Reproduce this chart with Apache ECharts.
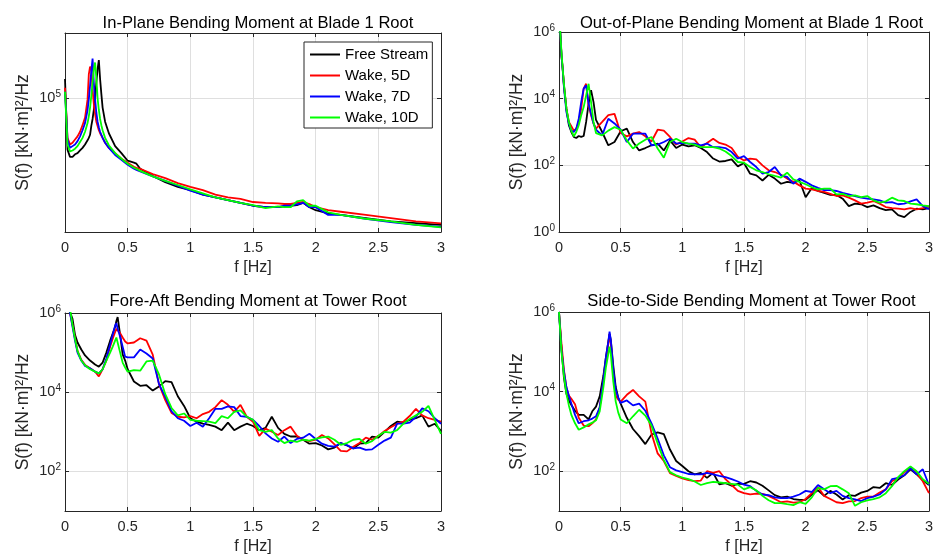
<!DOCTYPE html>
<html>
<head>
<meta charset="utf-8">
<script src="https://cdn.jsdelivr.net/npm/echarts@6/dist/echarts.min.js"></script>
<style>
html,body{margin:0;padding:0;background:#ffffff;}
#chart{width:936px;height:560px;}
</style>
</head>
<body>
<div id="chart"></div>
<script>
// ---------------- DATA ----------------
const seriesNames = ['Free Stream', 'Wake, 5D', 'Wake, 7D', 'Wake, 10D'];
const panelTitles = [
  'In-Plane Bending Moment at Blade 1 Root',
  'Out-of-Plane Bending Moment at Blade 1 Root',
  'Fore-Aft Bending Moment at Tower Root',
  'Side-to-Side Bending Moment at Tower Root'
];
const xAxisName = 'f [Hz]';
const yAxisName = 'S(f) [kN·m]²/Hz';
const xRange = [0, 3];
const xTickStep = 0.5;
const yRangeTL = [30000, 180000];
const yRangeTR = [1, 1e6];
const yRangeBL = [10, 1e6];
const yRangeBR = [10, 1e6];
const yTicksTL = [1e5];
const yTicksTR = [1, 1e2, 1e4, 1e6];
const yTicksBL = [1e2, 1e4, 1e6];
const yTicksBR = [1e2, 1e4, 1e6];

// In-plane bending moment, blade 1 root
const freqTL = [0,0.02,0.04,0.06,0.08,0.10,0.12,0.14,0.16,0.18,0.19,0.20,0.21,0.22,0.23,0.24,0.25,0.26,0.27,0.28,0.29,0.30,0.32,0.35,0.40,0.45,0.50,0.55,0.57,0.60,0.70,0.80,0.90,1.00,1.10,1.20,1.30,1.40,1.50,1.60,1.70,1.75,1.80,1.85,1.90,1.95,2.00,2.10,2.20,2.40,2.60,2.80,3.00];
const freeTL  = [119000,63000,59000,59000,60400,61000,62500,64000,66000,68500,70000,72000,78000,83000,90000,99000,115000,130000,141000,119000,104000,92000,81000,73000,65000,61000,57000,56000,55500,53000,49700,47000,45000,43700,42000,41000,40000,39000,38000,37500,37500,37800,38000,38200,39000,37500,36500,35500,35000,34000,33000,32500,32000];
const wake5TL = [110000,70000,66000,67000,69000,71000,74000,78500,84000,99000,124000,133000,130000,108000,95000,87000,81000,78000,75000,73000,71500,70000,67000,64000,61000,58000,56000,54000,53500,53000,50500,48700,46600,45000,43700,42000,41000,40400,39300,39000,38800,38600,38600,39000,39300,38600,37500,36500,36000,35000,34000,33000,32400];
const wake7TL = [106000,69000,64000,65000,66000,68000,71000,75000,80000,90000,99000,112000,128000,143000,115000,99000,88000,81000,77000,74000,72000,70000,67000,64000,60000,57500,55000,53000,52500,51800,49500,47500,45500,43500,42000,41000,40000,39000,38000,37500,37500,38000,38000,38500,39000,37500,37500,35000,35000,33800,32800,32000,31400];
const wake10TL = [106000,66000,62000,62500,63500,65000,67500,70000,74000,80000,85000,92000,102000,115000,130000,138000,120000,100000,90000,83000,78500,75000,70000,65500,61000,58000,55500,53500,53000,52000,49500,47500,45800,44000,42500,41000,40000,39000,38200,37200,37800,37500,37500,39500,40000,38000,38000,35800,35000,33800,33000,32000,31300];

// Out-of-plane bending moment, blade 1 root
const freqTR = [0,0.01,0.02,0.03,0.04,0.06,0.08,0.10,0.12,0.14,0.16,0.18,0.20,0.22,0.24,0.26,0.28,
  0.30,0.35,0.40,0.45,0.50,0.55,0.60,0.65,0.70,0.75,0.80,0.85,0.90,0.95,1.00,1.05,1.10,1.15,1.20,1.25,1.30,1.35,1.40,1.45,1.50,1.55,1.60,1.65,1.70,1.75,1.80,1.85,1.90,1.95,2.00,2.05,2.10,2.15,2.20,2.25,2.30,2.35,2.40,2.45,2.50,2.55,2.60,2.65,2.70,2.75,2.80,2.85,2.90,2.95,3.00];
const freeTR = [1.6e6,1.0e6,2.0e5,7.9e4,2.5e4,5.0e3,1.6e3,1.0e3,710,660,760,710,760,2.0e3,7.1e3,1.8e4,7.9e3,
  2.3e3,1.0e3,400,500,1.05e3, 1.26e3,500,280,330,400, 450,280,560,330,420, 370,400,330,250,160, 130,135,150,93,117, 56,50,35,52,40, 28,32,30,35,11, 21,17,15,13,13, 10,6.0,7.1,6.8,5.6, 6.3,5.2,4.5,4.8,3.2, 2.8,4.0,5.0,4.8,5.2];
const wake5TR = [1.6e6,1.0e6,2.0e5,7.9e4,2.5e4,5.0e3,2.0e3,1.5e3,1.1e3,1.26e3,2.0e3,5.0e3,2.0e4,2.8e4,6.3e3,3.2e3,1.8e3,
  1.26e3,2.0e3,3.2e3,3.5e3,930, 740,890,1.0e3,740,520, 1.17e3,1.1e3,710,420,520, 660,590,350,470,630, 470,420,330,180,140, 160,150,100,71,63, 52,40,32,25,20, 19,17,16,14,12, 12.6,10.7,8.9,7.1,7.6, 8.5,7.1,5.6,5.2,5.0, 4.8,5.2,4.8,5.2,6.0];
const wake7TR = [1.6e6,1.0e6,2.0e5,7.1e4,2.2e4,4.0e3,1.8e3,1.1e3,1.0e3,1.26e3,2.5e3,7.9e3,2.0e4,2.5e4,7.1e3,3.5e3,1.8e3,
  1.17e3,790,2.5e3,1.8e3,1.17e3, 500,890,890,890,400, 420,500,630,450,470, 450,450,400,450,350, 350,330,250,160,190, 126,89,56,63,89, 50,45,28,40,32, 25,21,18,18,17, 15,13.5,12,10.7,10, 9.5,8.9,7.6,7.9,6.8, 7.1,8.3,9.5,6.0,4.8];
const wake10TR = [1.6e6,1.0e6,2.5e5,7.9e4,2.8e4,5.0e3,2.0e3,1.1e3,740,1.0e3,1.6e3,3.2e3,5.6e3,1.26e4,2.8e4,7.9e3,2.0e3,
  930,790,1.1e3,1.4e3,1.17e3, 560,320,450,590,710, 320,170,500,630,500, 450,420,350,350,350, 320,260,190,126,120, 89,71,63,54,48, 43,60,38,32,27, 22,19,20,20,13.5, 14,12,12.6,11.2,12, 8.9,7.6,8.3,10.7,8.9, 8.5,7.1,6.8,6.3,6.0];

// Tower root (fore-aft and side-to-side) share one frequency list
const freqTower = [0,0.02,0.04,0.06,0.08,0.10,0.13,0.16,0.20,0.24,0.27,0.30,0.33,0.36,0.38,0.40,0.41,0.42,0.44,0.46,0.48,0.50,
  0.55,0.60,0.65,0.70,0.75,0.80,0.85,0.90,0.95,1.00,
  1.05,1.10,1.15,1.20,1.25,1.30,1.35,1.40,1.45,1.50,1.55,1.60,1.65,1.70,1.75,1.80,1.85,1.90,1.95,2.00,2.05,2.10,2.15,2.20,2.25,2.30,2.35,2.40,2.45,2.50,2.55,2.60,2.65,2.70,2.75,2.80,2.85,2.90,2.95,3.00];

// Fore-aft bending moment, tower root
const freeBL = [3.2e6,1.8e6,1.05e6,7.1e5,2.8e5,1.8e5,1.2e5,8.5e4,6.3e4,5.0e4,4.4e4,5.6e4,1.0e5,2.0e5,3.0e5,4.5e5,6.3e5,7.9e5,2.8e5,9.0e4,6.3e4,3.8e4,
  1.86e4,1.45e4,1.5e4,1.1e4,1.4e4,1.9e4,1.8e4,7.9e3,4.5e3,2.2e3,
  1.8e3,1.6e3,1.5e3,1.35e3,1.1e3, 1.7e3,1.1e3,1.35e3,1.6e3,1.4e3, 1.1e3,1.26e3,2.4e3,1.26e3,890, 760,760,630,500,520, 450,360,400,520,450, 380,500,520,760,710, 1.0e3,1.4e3,1.8e3,1.7e3,2.0e3, 2.2e3,2.6e3,1.35e3,1.6e3,1.05e3];
const wake5BL = [3.2e6,1.8e6,1.0e6,5.0e5,2.3e5,1.1e5,6.6e4,4.9e4,4.0e4,3.3e4,2.5e4,3.8e4,6.3e4,1.4e5,2.2e5,3.3e5,4.0e5,3.8e5,3.1e5,2.4e5,1.9e5,1.7e5,
  1.8e5,2.3e5,2.0e5,8.9e4,1.6e4,6.3e3,3.0e3,2.4e3,2.3e3,2.5e3,
  2.2e3,2.8e3,3.2e3,4.2e3,6.3e3, 4.8e3,3.2e3,4.8e3,2.4e3,1.8e3, 790,1.2e3,1.0e3,830,1.1e3, 1.35e3,790,630,580,630, 830,680,480,330,320, 420,520,710,630,790, 1.05e3,1.3e3,1.6e3,1.8e3,2.5e3, 3.8e3,2.6e3,2.2e3,2.0e3,1.8e3];
const wake7BL = [3.2e6,1.8e6,1.0e6,4.5e5,2.0e5,1.0e5,6.3e4,4.6e4,4.0e4,3.3e4,3.0e4,3.8e4,7.1e4,1.6e5,2.8e5,4.8e5,5.5e5,4.0e5,2.5e5,1.4e5,7.9e4,7.6e4,
  7.6e4,1.2e5,9.5e4,7.1e4,1.6e4,7.6e3,3.3e3,2.2e3,1.9e3,1.4e3,
  1.7e3,1.35e3,2.2e3,3.8e3,3.8e3, 4.4e3,4.2e3,2.5e3,2.4e3,2.0e3, 1.4e3,910,680,560,760, 520,660,710,890,660, 500,440,420,520,460, 380,400,350,360,470, 600,710,1.6e3,1.6e3,1.7e3, 2.4e3,3.9e3,3.3e3,2.2e3,1.6e3];
const wake10BL = [3.2e6,2.0e6,1.26e6,5.0e5,2.2e5,1.1e5,6.3e4,4.8e4,3.8e4,3.3e4,3.0e4,3.8e4,6.3e4,1.0e5,1.4e5,2.0e5,2.4e5,2.3e5,1.0e5,5.6e4,4.2e4,3.3e4,
  3.6e4,3.5e4,6.0e4,6.3e4,2.8e4,8.9e3,4.0e3,2.6e3,2.9e3,2.0e3,
  1.9e3,1.85e3,1.8e3,1.66e3,2.5e3, 2.2e3,3.2e3,3.5e3,2.4e3,2.0e3, 1.1e3,1.0e3,1.1e3,680,520, 600,560,630,600,660, 720,760,630,470,520, 630,660,500,580,790, 1.0e3,950,1.1e3,1.6e3,2.1e3, 2.6e3,3.2e3,4.5e3,2.0e3,890];

// Side-to-side bending moment, tower root
const freeBR = [1.0e6,1.26e5,2.2e4,8.9e3,6.0e3,4.6e3,3.3e3,2.6e3,2.6e3,2.0e3,3.2e3,4.2e3,7.6e3,2.5e4,7.1e4,1.8e5,2.8e5,2.0e5,4.5e4,1.3e4,7.1e3,5.0e3,
  2.2e3,1.15e3,760,480,830,950,850,350,180,135,
  100,83,91,68,91, 47,50,43,48,48, 56,52,43,33,25, 22,23,20,19,19, 26,33,24,32,26, 19.5,25,24,29,32, 40,38,50,45,62, 79,112,83,60,45];
const wake5BR = [1.0e6,1.6e5,3.5e4,1.26e4,7.9e3,6.6e3,4.8e3,2.2e3,1.4e3,1.35e3,1.6e3,2.0e3,4.0e3,1.8e4,5.6e4,1.6e5,2.8e5,1.6e5,2.8e4,7.9e3,6.3e3,5.6e3,
  8.3e3,1.1e4,7.6e3,5.6e3,890,280,180,89,76,66,
  60,56,58,100,91, 100,63,45,32,28, 26,27.5,27,24,20, 16.6,17.4,16.2,16.6,20, 28,40,24,20,16.6, 15.8,17.4,17.8,21,23, 23,29,35,56,68, 95,120,89,56,28];
const wake7BR = [1.0e6,1.1e5,3.2e4,1.3e4,7.9e3,5.0e3,2.6e3,1.6e3,1.8e3,1.9e3,2.1e3,2.4e3,4.0e3,2.0e4,7.1e4,1.8e5,3.2e5,2.0e5,3.5e4,1.1e4,7.1e3,5.2e3,
  6.0e3,4.5e3,5.0e3,3.3e3,1.6e3,660,250,126,105,95,
  85,83,83,91,83, 76,71,63,55,46, 42,32,26,25,22, 21,21,23,26,32, 30,45,35,28,32, 24,21,19.5,17.8,21, 23,26,35,63,68, 79,120,83,112,45];
const wake10BR = [1.0e6,1.0e5,2.5e4,8.9e3,4.5e3,2.6e3,1.6e3,1.1e3,1.26e3,1.5e3,1.66e3,1.9e3,3.2e3,1.3e4,4.0e4,8.9e4,1.35e5,8.9e4,1.8e4,5.6e3,3.0e3,2.0e3,
  1.6e3,2.4e3,3.5e3,2.5e3,1.4e3,500,190,95,79,69,
  63,55,45,50,54, 52,50,48,46,35, 40,33,24,18.6,15.8, 15.8,14.8,14.1,16.6,15.1, 22,38,35,42,43, 35,28,13.5,16.6,18.6, 20,22,28,42,71, 100,132,100,63,48];

// ---------------- STYLE / LAYOUT ----------------
const FONT = '"Liberation Sans", Arial, Helvetica, sans-serif';
const COLORS = ['#000000', '#ff0000', '#0000ff', '#00ff00'];
const AXIS_COLOR = '#262626';
const GRID_COLOR = '#dfdfdf';
const GRIDS = [
  {left: 65, top: 33, width: 376, height: 199},
  {left: 559, top: 32, width: 375, height: 200},
  {left: 65, top: 313, width: 376, height: 198},
  {left: 559, top: 312, width: 375, height: 199}
];
const TITLE_TOPS = [10, 10, 288, 288];

const panels = [
  {freq: freqTL, vals: [freeTL, wake5TL, wake7TL, wake10TL], yRange: yRangeTL, yTicks: yTicksTL},
  {freq: freqTR, vals: [freeTR, wake5TR, wake7TR, wake10TR], yRange: yRangeTR, yTicks: yTicksTR},
  {freq: freqTower, vals: [freeBL, wake5BL, wake7BL, wake10BL], yRange: yRangeBL, yTicks: yTicksBL},
  {freq: freqTower, vals: [freeBR, wake5BR, wake7BR, wake10BR], yRange: yRangeBR, yTicks: yTicksBR}
];

function powLabel(v) {
  const e = Math.round(Math.log10(v));
  return '10{sup|' + e + '}';
}

const grid = [], xAxis = [], yAxis = [], series = [], title = [];
panels.forEach((p, i) => {
  const g = GRIDS[i];
  grid.push({left: g.left, top: g.top, width: g.width, height: g.height, containLabel: false});
  title.push({
    text: panelTitles[i], left: g.left + g.width / 2, top: TITLE_TOPS[i], textAlign: 'center',
    textStyle: {fontFamily: FONT, fontSize: 16.6, fontWeight: 'normal', color: '#000000'}
  });
  const lineStyle = {color: AXIS_COLOR, width: 1};
  xAxis.push({
    type: 'value', gridIndex: i, position: 'bottom', min: xRange[0], max: xRange[1], interval: xTickStep,
    name: xAxisName, nameLocation: 'middle', nameGap: 28,
    nameTextStyle: {fontFamily: FONT, fontSize: 16, color: AXIS_COLOR},
    axisLine: {show: true, onZero: false, lineStyle},
    axisTick: {show: true, inside: true, length: 4, lineStyle},
    axisLabel: {fontFamily: FONT, fontSize: 14.5, color: AXIS_COLOR, margin: 8},
    splitLine: {show: true, lineStyle: {color: GRID_COLOR, width: 1}}
  });
  xAxis.push({
    type: 'value', gridIndex: i, position: 'top', min: xRange[0], max: xRange[1], interval: xTickStep,
    axisLine: {show: true, onZero: false, lineStyle},
    axisTick: {show: true, inside: true, length: 4, lineStyle},
    axisLabel: {show: false}, splitLine: {show: false}
  });
  yAxis.push({
    type: 'log', logBase: 10, gridIndex: i, position: 'left', min: p.yRange[0], max: p.yRange[1],
    name: yAxisName, nameLocation: 'middle', nameGap: 33,
    nameTextStyle: {fontFamily: FONT, fontSize: 17.5, color: AXIS_COLOR},
    axisLine: {show: true, onZero: false, lineStyle},
    axisTick: {show: true, inside: true, length: 4, lineStyle, customValues: p.yTicks},
    axisLabel: {
      customValues: p.yTicks, formatter: powLabel, fontFamily: FONT, fontSize: 14.5, color: AXIS_COLOR, margin: 4,
      rich: {sup: {fontFamily: FONT, fontSize: 10, color: AXIS_COLOR, verticalAlign: 'top', padding: [0, 0, 8, 0]}}
    },
    splitLine: {show: true, lineStyle: {color: GRID_COLOR, width: 1}}
  });
  yAxis.push({
    type: 'log', logBase: 10, gridIndex: i, position: 'right', min: p.yRange[0], max: p.yRange[1],
    axisLine: {show: true, onZero: false, lineStyle},
    axisTick: {show: true, inside: true, length: 4, lineStyle, customValues: p.yTicks},
    axisLabel: {show: false}, splitLine: {show: false}
  });
  p.vals.forEach((vals, s) => {
    series.push({
      type: 'line', name: seriesNames[s], xAxisIndex: 2 * i, yAxisIndex: 2 * i,
      data: p.freq.map((f, k) => [f, vals[k]]),
      showSymbol: false, symbol: 'none', clip: true, z: 2 + s,
      lineStyle: {color: COLORS[s], width: 1.8},
      itemStyle: {color: COLORS[s]}
    });
  });
});

const chart = echarts.init(document.getElementById('chart'), null, {renderer: 'canvas'});
chart.setOption({
  animation: false,
  backgroundColor: '#ffffff',
  textStyle: {fontFamily: FONT},
  title, grid, xAxis, yAxis, series,
  legend: {
    data: seriesNames, orient: 'vertical', left: 304, top: 42,
    icon: 'rect', itemWidth: 30, itemHeight: 2, itemGap: 6,
    padding: [5, 4, 3, 6], backgroundColor: '#ffffff', borderColor: AXIS_COLOR, borderWidth: 1,
    selectedMode: false,
    textStyle: {fontFamily: FONT, fontSize: 15, color: '#000000'}
  }
});
</script>
</body>
</html>
